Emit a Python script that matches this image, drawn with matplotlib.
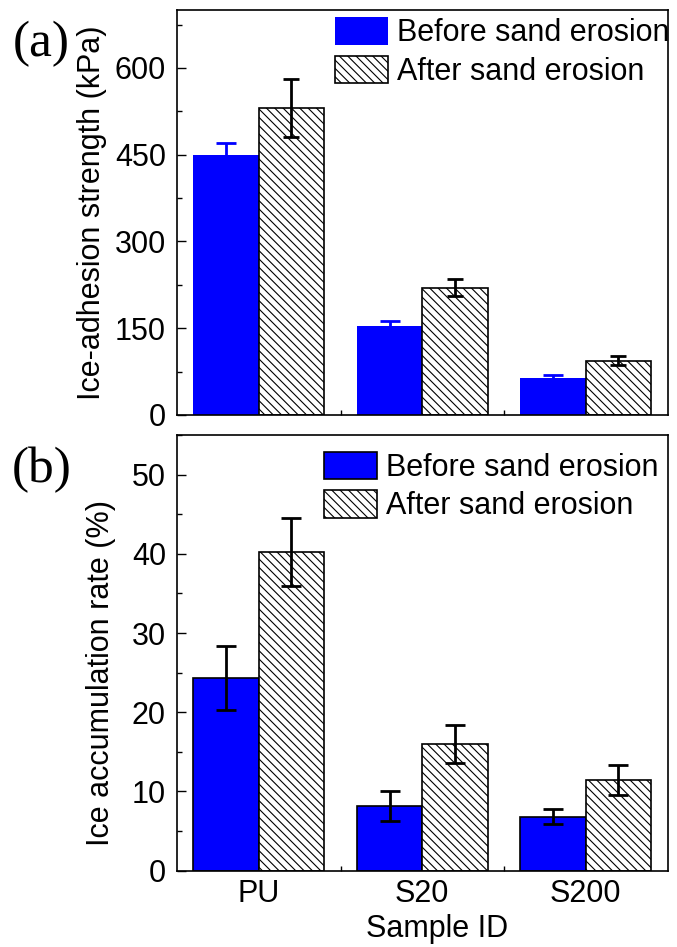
import matplotlib
matplotlib.use("Agg")
import matplotlib.pyplot as plt
import numpy as np
from matplotlib.ticker import MultipleLocator, FixedLocator

# ---- data ----
samples = ["PU", "S20", "S200"]
legend_labels = ["Before sand erosion", "After sand erosion"]

adh_before = [450, 153, 64]
adh_before_err = [20, 10, 5]
adh_after = [530, 220, 94]
adh_after_err = [50, 15, 8]

acc_before = [24.3, 8.2, 6.8]
acc_before_err = [4.0, 1.9, 0.95]
acc_after = [40.2, 16.0, 11.4]
acc_after_err = [4.3, 2.4, 1.9]

plt.rcParams['font.family'] = ['Liberation Sans', 'DejaVu Sans']
plt.rcParams['hatch.linewidth'] = 0.8
plt.rcParams['hatch.color'] = '#222222'

FS = 22
fig = plt.figure(figsize=(6.77, 9.47), dpi=100)
L, R = 0.2615, 0.986
ax1 = fig.add_axes([L, 0.5618, R - L, 0.9894 - 0.5618])
ax2 = fig.add_axes([L, 0.0806, R - L, 0.5407 - 0.0806])

x = np.arange(1, len(samples) + 1)
w = 0.4


def style_axis(ax, ymax, major, minor):
    ax.set_xlim(0.5, 3.5)
    ax.set_ylim(0, ymax)
    ax.yaxis.set_major_locator(MultipleLocator(major))
    ax.yaxis.set_minor_locator(MultipleLocator(minor))
    ax.set_xticks(x)
    ax.xaxis.set_minor_locator(FixedLocator([1.5, 2.5]))
    ax.tick_params(axis='y', which='major', direction='in', length=6.5, width=1.0,
                   labelsize=FS, pad=8, right=False)
    ax.tick_params(axis='y', which='minor', direction='in', length=3.5, width=1.0, right=False)
    ax.tick_params(axis='x', which='major', direction='in', length=0, labelsize=FS, pad=6, top=False)
    ax.tick_params(axis='x', which='minor', direction='in', length=3.5, width=1.0, top=False)
    for s in ax.spines.values():
        s.set_linewidth(1.2)


leg_kw = dict(loc='upper left', frameon=False, fontsize=FS, borderpad=0, borderaxespad=0,
              handlelength=1.73, handleheight=1.0, handletextpad=0.3, labelspacing=0.25)

# ---- panel (a) ----
ax1.bar(x - w / 2, adh_before, w, color='#0000ff', edgecolor='#0000ff', linewidth=0,
        label=legend_labels[0], zorder=2)
ax1.bar(x + w / 2, adh_after, w, color='white', edgecolor='black', hatch='\\\\\\\\',
        linewidth=1.2, label=legend_labels[1], zorder=2)
ax1.errorbar(x - w / 2, adh_before, yerr=adh_before_err, fmt='none', ecolor='#0000ff',
             elinewidth=2, capsize=7.5, capthick=2, zorder=3)
ax1.errorbar(x + w / 2, adh_after, yerr=adh_after_err, fmt='none', ecolor='black',
             elinewidth=2, capsize=6, capthick=2, zorder=3)
style_axis(ax1, 700, 150, 75)
ax1.tick_params(axis='x', labelbottom=False)
ax1.set_ylabel("Ice-adhesion strength (kPa)", fontsize=FS, va='center')
ax1.yaxis.set_label_coords(-0.174, 0.50)
ax1.legend(bbox_to_anchor=(0.323, 0.982), **leg_kw)

# ---- panel (b) ----
ax2.bar(x - w / 2, acc_before, w, color='#0000ff', edgecolor='black', linewidth=1.2,
        label=legend_labels[0], zorder=2)
ax2.bar(x + w / 2, acc_after, w, color='white', edgecolor='black', hatch='\\\\\\\\',
        linewidth=1.2, label=legend_labels[1], zorder=2)
ax2.errorbar(x - w / 2, acc_before, yerr=acc_before_err, fmt='none', ecolor='black',
             elinewidth=2, capsize=7.5, capthick=2, zorder=3)
ax2.errorbar(x + w / 2, acc_after, yerr=acc_after_err, fmt='none', ecolor='black',
             elinewidth=2, capsize=7.5, capthick=2, zorder=3)
style_axis(ax2, 55, 10, 5)
ax2.set_xticklabels(samples)
ax2.set_ylabel("Ice accumulation rate (%)", fontsize=FS, va='center')
ax2.yaxis.set_label_coords(-0.155, 0.453)
ax2.set_xlabel("Sample ID", fontsize=FS)
ax2.xaxis.set_label_coords(0.53, -0.1)
ax2.legend(bbox_to_anchor=(0.299, 0.962), **leg_kw)

fig.text(0.061, 0.9535, "(a)", fontsize=37, family=['Liberation Serif', 'DejaVu Serif'],
         ha='center', va='center')
fig.text(0.062, 0.5037, "(b)", fontsize=37, family=['Liberation Serif', 'DejaVu Serif'],
         ha='center', va='center')

fig.savefig("out.png", dpi=100)
